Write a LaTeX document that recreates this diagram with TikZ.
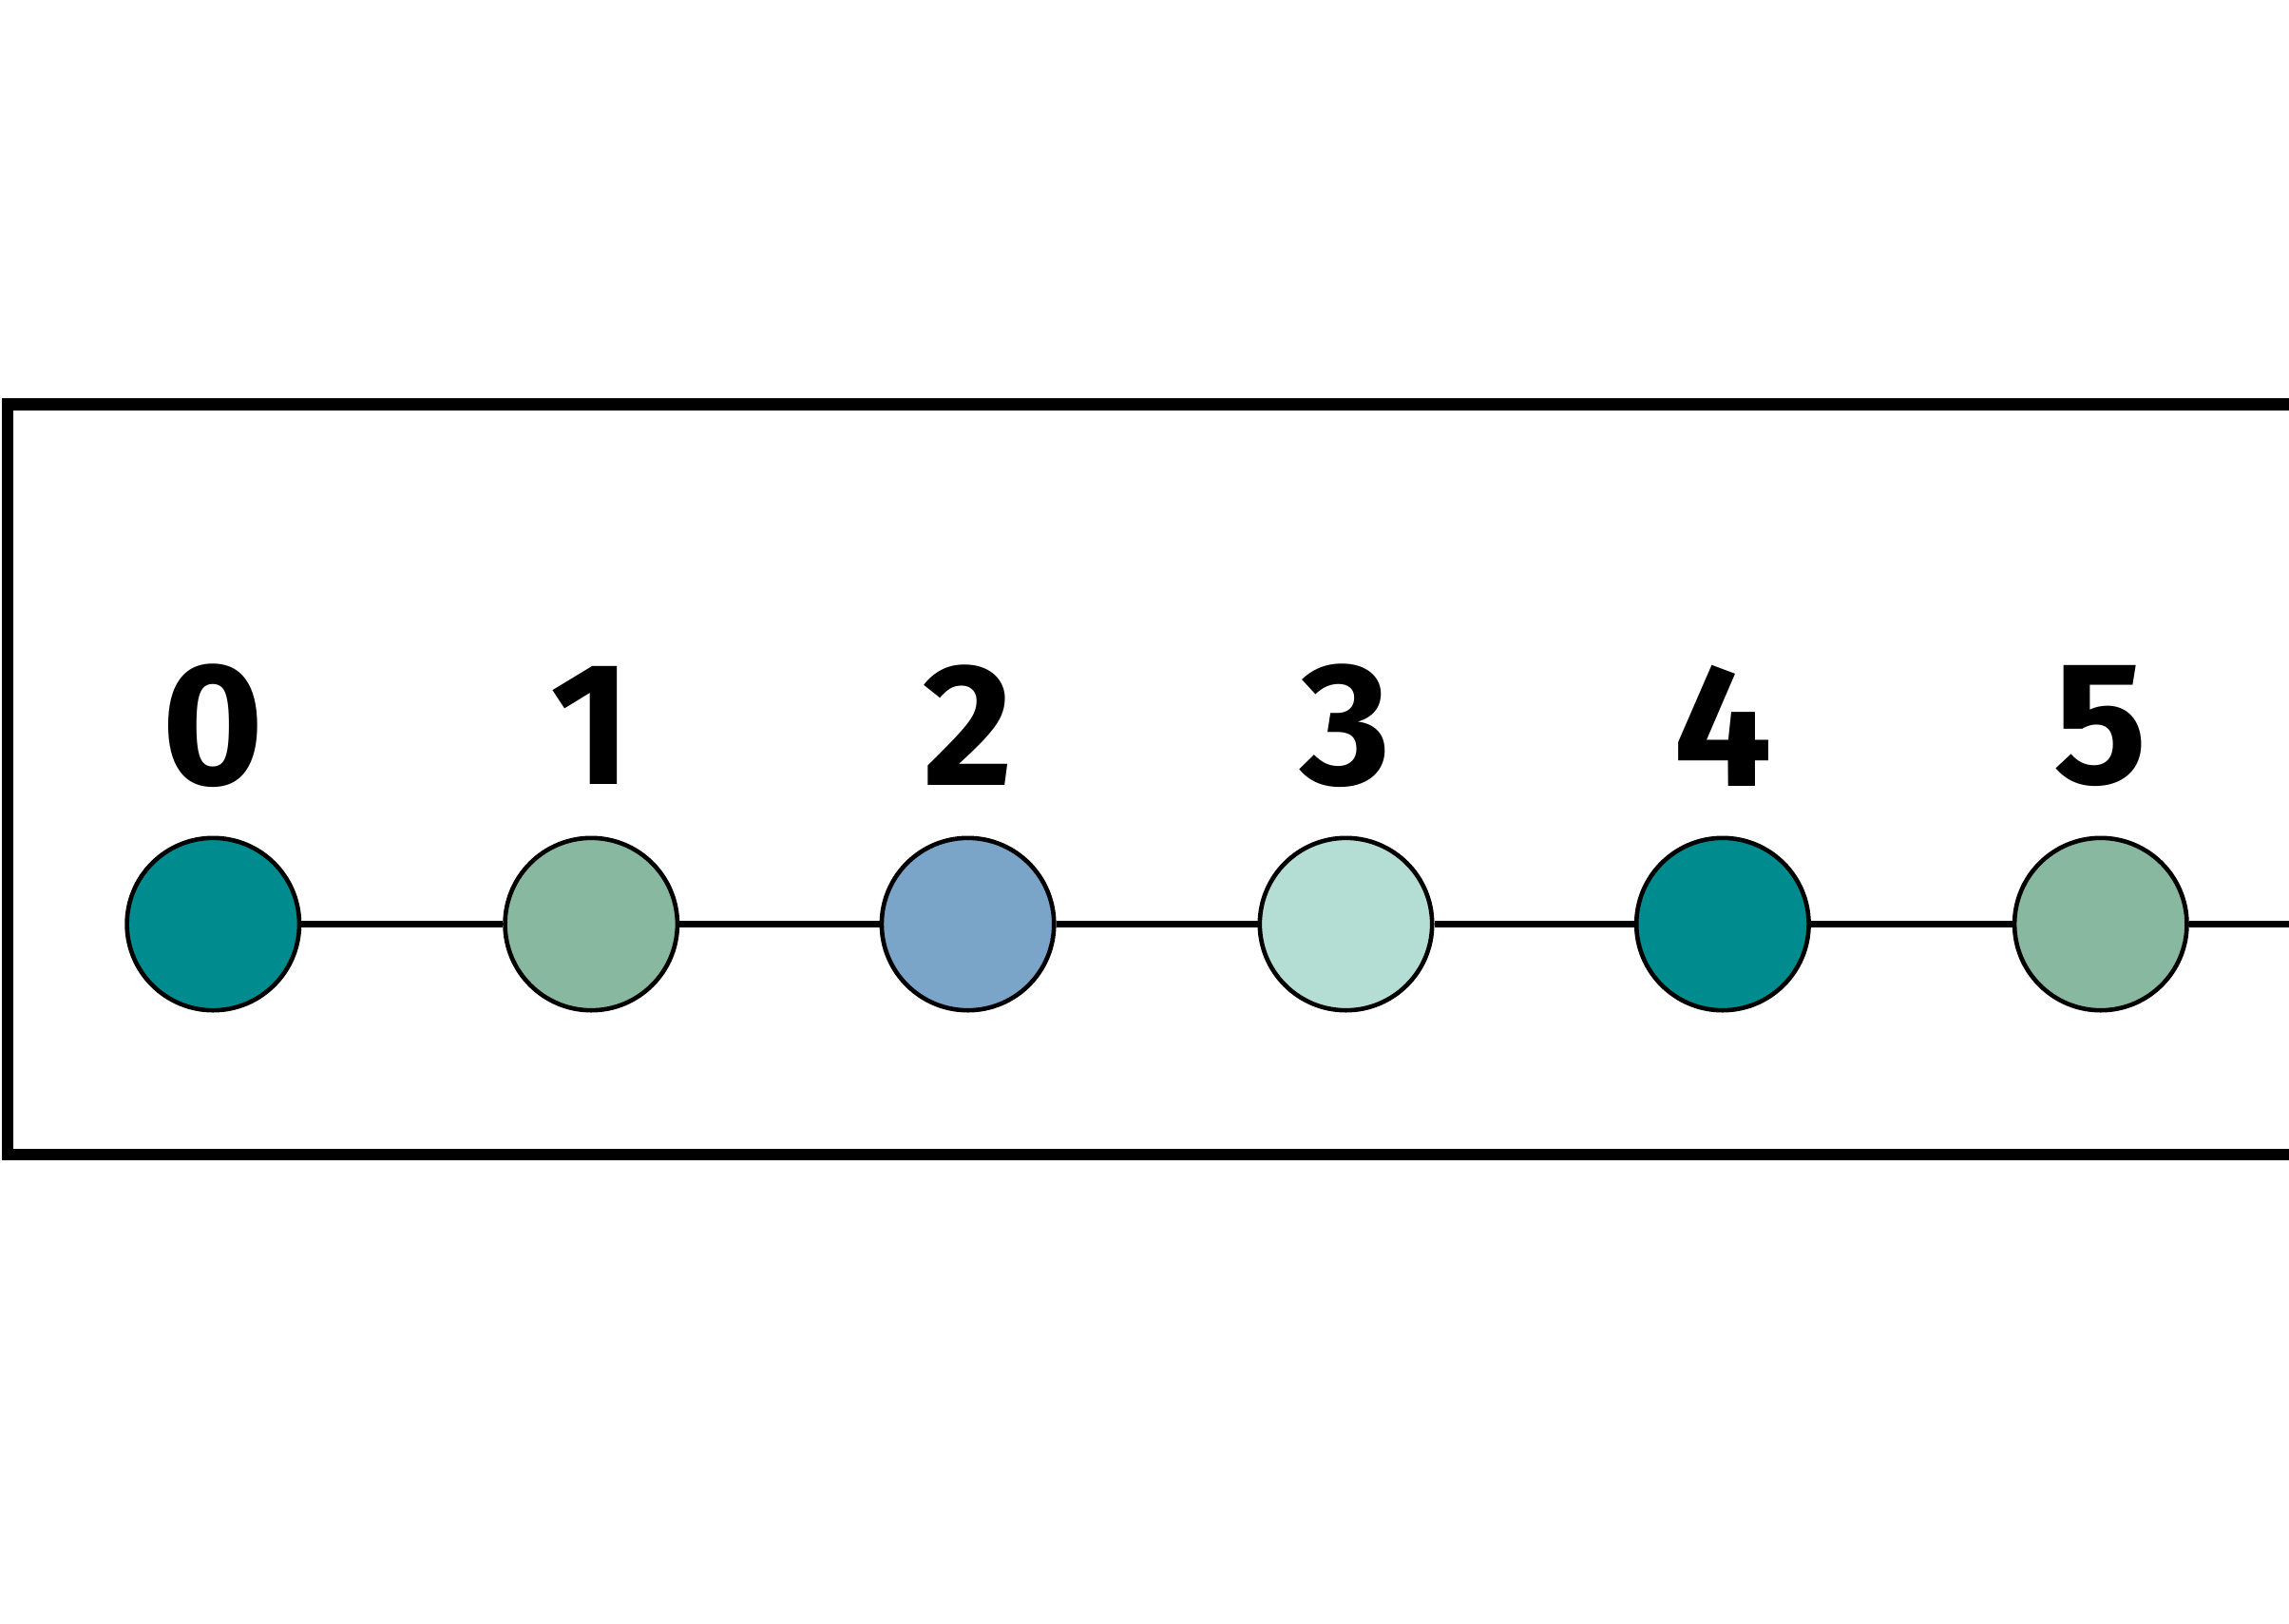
\documentclass[tikz,border=0pt]{standalone}
\usepackage{fontspec}
\setmainfont{Fira Sans}
\definecolor{cteal}{HTML}{008B8F}
\definecolor{csage}{HTML}{89B8A0}
\definecolor{cblue}{HTML}{7AA5C9}
\definecolor{clight}{HTML}{B4DDD4}
\begin{document}
\begin{tikzpicture}[x=0.01cm,y=-0.01cm,
  dot/.style={circle,draw=black,line width=0.03cm,minimum size=1.18cm,inner sep=0},
  lab/.style={font=\fontsize{34}{40}\selectfont\bfseries},
  link/.style={line width=0.04cm}]
\useasboundingbox (0,0) rectangle (1568,1112);
\clip (0,0) rectangle (1568,1112);
\draw[line width=0.08cm] (5,277) rectangle (1700,791);
\coordinate (end) at (1600,633);
\foreach \i/\x/\c in {0/146/cteal,1/405/csage,2/663/cblue,3/922/clight,4/1180/cteal,5/1439/csage}{
  \node[lab] (l\i) at (\x,497) {\i};
  \node[dot,fill=\c] (n\i) at (\x,633) {};
}
\draw[link] (n0) -- (n1);
\draw[link] (n1) -- (n2);
\draw[link] (n2) -- (n3);
\draw[link] (n3) -- (n4);
\draw[link] (n4) -- (n5);
\draw[link] (n5.east) -- (end);
\end{tikzpicture}
\end{document}
